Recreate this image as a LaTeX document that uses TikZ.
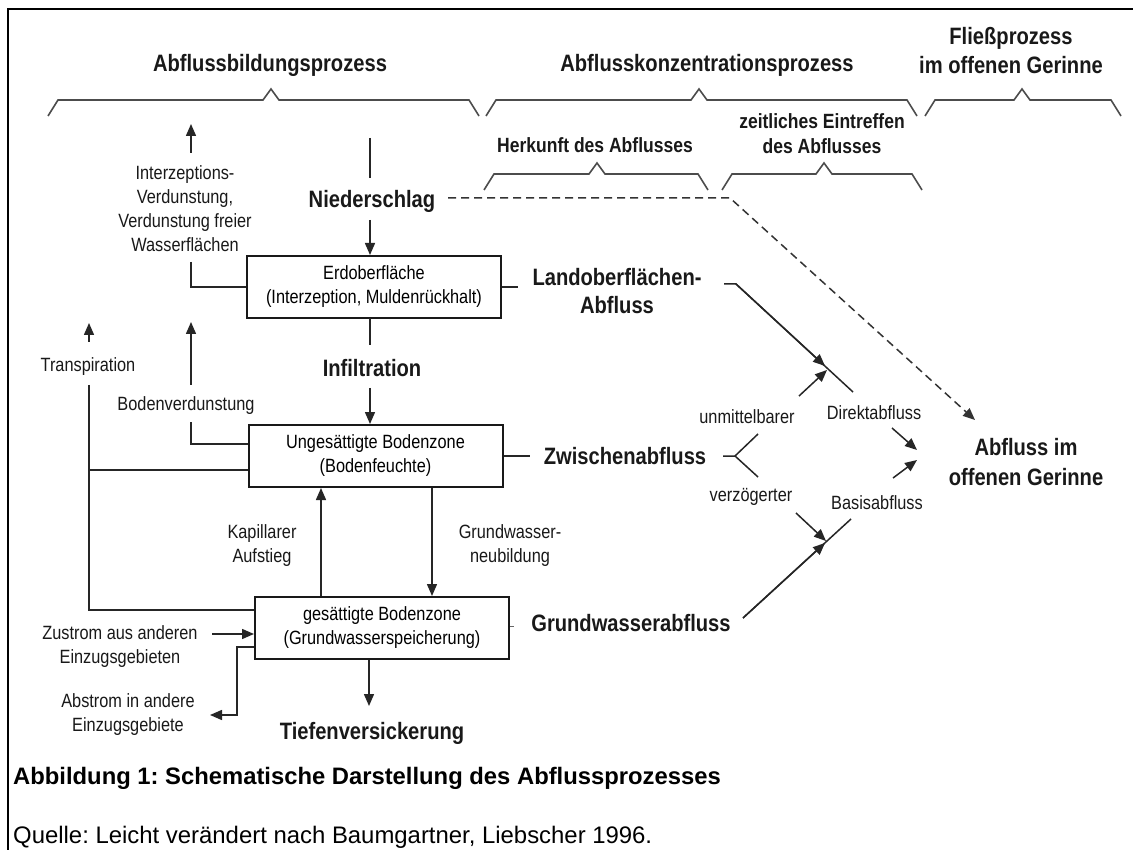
\documentclass[tikz,border=0pt]{standalone}
\usepackage{fontspec}
\setmainfont{Liberation Sans}
\newfontfamily\narrowsans[FakeStretch=0.85]{Liberation Sans}
\usetikzlibrary{arrows.meta}
\frenchspacing

% curly bracket drawn as a polyline: left x, right x, tip x, bar y
\newcommand\hbrace[4]{%
  \draw[brace] (#1,#4+16) -- (#1+10,#4) -- (#3-8,#4) -- (#3,#4-11)
    -- (#3+8,#4) -- (#2-10,#4) -- (#2,#4+16);}

\tikzset{
  lbl/.style={font=\narrowsans\fontsize{19.2}{24}\selectfont, align=center, inner sep=0pt, text=black!90},
  blbl/.style={font=\narrowsans\bfseries\fontsize{23.7}{28}\selectfont, align=center, inner sep=0pt, text=black!90},
  hbl/.style={font=\narrowsans\bfseries\fontsize{20.6}{25}\selectfont, align=center, inner sep=0pt, text=black!90},
  zone/.style={draw=black!90, line width=2pt, minimum width=254pt, minimum height=62pt,
    inner sep=0pt, align=center, font=\narrowsans\fontsize{19.2}{24}\selectfont},
  conn/.style={line width=1.5pt, draw=black!85},
  arr/.style={conn, -{Triangle[length=12pt,width=10pt]}},
  brace/.style={line width=1.6pt, draw=black!70, line join=miter},
}

\begin{document}
\begin{tikzpicture}[x=1pt,y=-1pt]
\useasboundingbox (0,0) rectangle (1133,850);
\fill[white] (0,0) rectangle (1133,850);

% frame
\draw[line width=1.2pt] (8,850) -- (8,9) -- (1133,9);

% process headings and brackets
\node[blbl] (tbild) at (270,65) {Abflussbildungsprozess};
\node[blbl] (tkonz) at (707,65) {Abflusskonzentrationsprozess};
\node[blbl, font=\narrowsans\bfseries\fontsize{23.7}{29}\selectfont] (tfliess) at (1011,51) {Fließprozess\\im offenen Gerinne};
\hbrace{48}{479}{271}{100}
\hbrace{486}{917}{699}{100}
\hbrace{925}{1121}{1022}{100}

\node[hbl] (herkunft) at (595,145) {Herkunft des Abflusses};
\node[hbl] (zeit) at (822,134) {zeitliches Eintreffen\\des Abflusses};
\hbrace{484}{708}{597}{174}
\hbrace{722}{922}{824}{174}

% storage boxes
\node[zone] (erd) at (374,287) {Erdoberfläche\\(Interzeption, Muldenrückhalt)};
\node[zone] (ung) at (375.5,456) {Ungesättigte Bodenzone\\(Bodenfeuchte)};
\node[zone] (ges) at (382,628) {gesättigte Bodenzone\\(Grundwasserspeicherung)};

% precipitation
\node[blbl] (nieder) at (372,201) {Niederschlag};
\coordinate (nsTop) at (370,138);
\coordinate (nsBot) at (370,178);
\coordinate (nsOut) at (370,220);
\draw[conn] (nsTop) -- (nsBot);
\draw[arr] (nsOut) -- (erd.north -| nsOut);

% interception evaporation
\node[lbl] (interz) at (185,209) {Interzeptions-\\Verdunstung,\\Verdunstung freier\\Wasserflächen};
\coordinate (ivTail) at (191,153);
\coordinate (ivTip) at (191,124);
\draw[arr] (ivTail) -- (ivTip);
\coordinate (ivLine) at (191,262);
\draw[conn] (ivLine) |- (erd.west);

% infiltration
\coordinate (erdOut) at (370,318);
\coordinate (infTop) at (370,345);
\coordinate (infOut) at (370,388);
\node[blbl] (infil) at (372,368) {Infiltration};
\draw[conn] (erdOut) -- (infTop);
\draw[arr] (infOut) -- (ung.north -| infOut);

% transpiration
\node[lbl] (transp) at (88,367) {Transpiration};
\coordinate (trTail) at (89,342);
\coordinate (trTip) at (89,323);
\draw[arr] (trTail) -- (trTip);
\coordinate (trLine) at (89,385);
\coordinate (trLow) at (89,610);
\draw[conn] (trLine) -- (trLow) -- (trLow -| ges.west);
\coordinate (trMid) at (89,470);
\draw[conn] (trMid) -- (trMid -| ung.west);

% soil evaporation
\node[lbl] (bodenv) at (186,406) {Bodenverdunstung};
\coordinate (bvTail) at (191,385);
\coordinate (bvTip) at (191,322);
\draw[arr] (bvTail) -- (bvTip);
\coordinate (bvLine) at (191,422);
\coordinate (bvLow) at (191,444);
\draw[conn] (bvLine) -- (bvLow) -- (bvLow -| ung.west);

% capillary rise and groundwater recharge
\coordinate (kapX) at (321,0);
\coordinate (gwnX) at (432,0);
\draw[arr] (ges.north -| kapX) -- (ung.south -| kapX);
\draw[arr] (ung.south -| gwnX) -- (ges.north -| gwnX);
\node[lbl] (kapill) at (262,546) {Kapillarer\\Aufstieg};
\node[lbl] (gwneu) at (510,546) {Grundwasser-\\neubildung};

% inflow / outflow to neighbouring catchments
\node[lbl] (zustrom) at (120,647) {Zustrom aus anderen\\Einzugsgebieten};
\coordinate (zuTail) at (212,634);
\draw[arr] (zuTail) -- (zuTail -| ges.west);
\node[lbl] (abstrom) at (128,715) {Abstrom in andere\\Einzugsgebiete};
\coordinate (abA) at (237,647);
\coordinate (abB) at (237,715);
\coordinate (abTip) at (210,715);
\draw[arr] (abA -| ges.west) -- (abA) -- (abB) -- (abTip);

% deep percolation
\coordinate (tvTip) at (369,706);
\draw[arr] (ges.south -| tvTip) -- (tvTip);
\node[blbl] (tiefen) at (372,733) {Tiefenversickerung};

% runoff components
\node[blbl] (landob) at (617,291) {Landoberflächen-\\Abfluss};
\coordinate (loIn) at (518,287);
\draw[conn] (erd.east) -- (loIn);
\node[blbl] (zwischen) at (625,456) {Zwischenabfluss};
\coordinate (zwIn) at (530,456);
\draw[conn] (ung.east) -- (zwIn);
\node[blbl] (gwab) at (631,623) {Grundwasserabfluss};
\coordinate (gwIn) at (514,626);
\draw[line width=1pt, draw=black!60] (ges.east |- gwIn) -- (gwIn);

% surface runoff towards direct runoff
\coordinate (loA) at (724,284);
\coordinate (loB) at (736,284);
\coordinate (loTip) at (825,366);
\coordinate (loEnd) at (853,392);
\draw[conn] (loA) -- (loB) -- (loEnd);
\draw[arr] (loB) -- (loTip);

% interflow fork
\coordinate (fkA) at (723,456);
\coordinate (fkB) at (735,456);
\coordinate (fkUp) at (758,434);
\coordinate (fkDn) at (758,477);
\draw[conn] (fkA) -- (fkB) -- (fkUp);
\draw[conn] (fkB) -- (fkDn);
\node[lbl] (unmit) at (747,417) {unmittelbarer};
\node[lbl] (verz) at (751,497) {verzögerter};
\coordinate (umTail) at (799,396);
\coordinate (umTip) at (827,370);
\draw[arr] (umTail) -- (umTip);
\coordinate (vzTail) at (796,513);
\coordinate (vzTip) at (826,541);
\draw[arr] (vzTail) -- (vzTip);

% groundwater runoff towards base flow
\coordinate (gwA) at (743,618);
\coordinate (gwTip) at (825,543);
\coordinate (gwEnd) at (851,519);
\draw[conn] (gwA) -- (gwEnd);
\draw[arr] (gwA) -- (gwTip);

% direct runoff and base flow into the channel
\node[lbl] (direkt) at (874,413) {Direktabfluss};
\node[lbl] (basis) at (877,503) {Basisabfluss};
\coordinate (dkTail) at (892,428);
\coordinate (dkTip) at (917,450);
\draw[arr] (dkTail) -- (dkTip);
\coordinate (bsTail) at (893,478);
\coordinate (bsTip) at (917,460);
\draw[arr] (bsTail) -- (bsTip);
\node[blbl, font=\narrowsans\bfseries\fontsize{23.7}{30}\selectfont] (gerinne) at (1026,462) {Abfluss im\\offenen Gerinne};

% precipitation falling directly on the channel
\coordinate (dsBend) at (730,198);
\coordinate (dsTip) at (975,420);
\coordinate (dsStart) at (448,198);
\draw[line width=1.5pt, draw=black!80, dash pattern=on 8pt off 5pt, -{Triangle[length=12pt,width=10pt]}]
  (dsStart) -- (dsBend) -- (dsTip);

% caption
\node[anchor=west, inner sep=0pt, font=\bfseries\fontsize{23.8}{28}\selectfont] (caption) at (13,778)
  {Abbildung 1: Schematische Darstellung des Abflussprozesses};
\node[anchor=west, inner sep=0pt, font=\fontsize{23.9}{28}\selectfont] (source) at (13,837)
  {Quelle: Leicht verändert nach Baumgartner, Liebscher 1996.};
\end{tikzpicture}
\end{document}
